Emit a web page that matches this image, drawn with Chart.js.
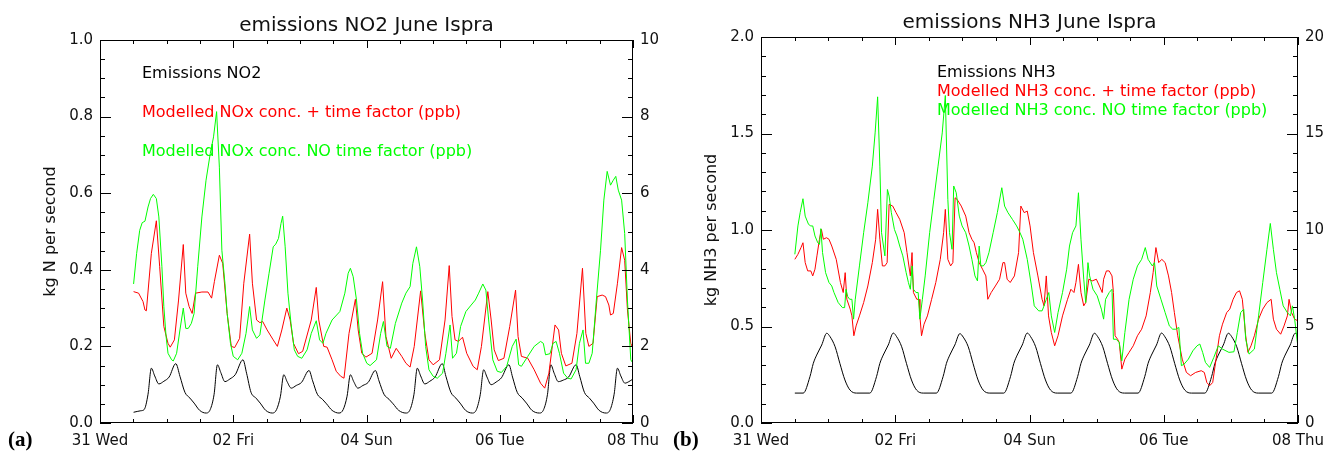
<!DOCTYPE html>
<html>
<head>
<meta charset="utf-8">
<script src="https://cdn.jsdelivr.net/npm/chart.js@4/dist/chart.umd.min.js"></script>
<style>
  body { margin: 0; background: #fff; }
  #wrap { position: relative; width: 1327px; height: 456px; }
  canvas { position: absolute; top: 0; }
</style>
</head>
<body>
<div id="wrap">
  <canvas id="no2" width="663" height="456" style="left:0"></canvas>
  <canvas id="nh3" width="664" height="456" style="left:663px"></canvas>
</div>
<script>
// x values are hours since 31 May 00:00
const dayTicks = [0, 48, 96, 144, 192];
const dayLabels = ["31 Wed", "02 Fri", "04 Sun", "06 Tue", "08 Thu"];

// NO2 panel: emissions (kg N/s, left axis), concentrations (ppb, right axis)
const no2Emis = [
  [12.1,.028],[14.7,.032],[15.9,.035],[17.3,.075],[18.5,.143],[19.7,.123],[21.2,.102],[23.0,.109],[24.9,.120],[27.3,.155],[28.8,.122],[30.6,.080],[32.4,.065],[33.9,.052],[35.9,.033],
  [38.2,.026],[39.7,.035],[41.1,.075],[42.3,.152],[43.5,.132],[45.0,.108],[46.8,.115],[48.7,.126],[51.5,.165],[52.8,.130],[54.4,.080],[56.2,.065],[57.7,.052],[59.7,.033],
  [62.1,.026],[63.6,.035],[65.0,.070],[66.2,.126],[67.4,.108],[68.9,.091],[70.7,.098],[72.6,.106],[75.3,.137],[76.6,.110],[78.3,.075],[80.1,.062],[81.6,.050],[83.6,.033],
  [86.1,.026],[87.6,.035],[89.0,.070],[90.2,.126],[91.4,.108],[92.9,.091],[94.7,.098],[96.6,.106],[99.2,.137],[100.5,.110],[102.3,.075],[104.1,.062],[105.6,.050],[107.6,.033],
  [110.2,.026],[111.7,.035],[113.1,.075],[114.3,.143],[115.5,.123],[117.0,.102],[118.8,.109],[120.7,.120],[123.3,.155],[124.6,.122],[126.4,.080],[128.2,.065],[129.7,.052],[131.7,.033],
  [134.1,.026],[135.6,.035],[137.0,.075],[138.2,.139],[139.4,.120],[140.9,.100],[142.7,.107],[144.6,.118],[147.3,.152],[148.6,.120],[150.3,.080],[152.1,.065],[153.6,.052],[155.6,.033],
  [158.3,.026],[159.8,.035],[161.2,.075],[162.4,.152],[163.6,.130],[165.1,.108],[166.9,.112],[168.8,.120],[171.5,.152],[172.8,.122],[174.5,.080],[176.3,.065],[177.8,.052],[179.8,.033],
  [182.3,.026],[183.8,.035],[185.2,.075],[186.4,.143],[187.6,.123],[189.1,.104],[190.5,.108],[192.0,.115]
];
const no2WithTf = [
  [12.1,3.43],[13.9,3.39],[15.5,3.17],[16.2,2.95],[16.7,2.93],[18.5,4.43],[20.3,5.28],[21.5,4.08],[23.0,2.52],[24.5,2.08],[25.3,1.98],[26.8,2.17],[28.3,3.21],[30.0,4.66],[30.9,3.39],[32.1,3.04],[33.2,2.86],[34.4,3.39],[36.7,3.42],[38.9,3.42],[40.2,3.26],[41.2,3.69],[43.0,4.38],[44.2,4.17],[45.8,2.86],[47.3,2.0],[48.5,1.97],[50.3,2.21],[51.8,3.65],[53.9,4.93],[54.9,3.65],[56.4,2.69],[57.6,2.62],[58.6,2.65],[60.2,2.43],[62.4,2.17],[63.9,2.0],[65.5,2.43],[67.3,3.0],[68.5,2.69],[69.7,2.08],[71.5,1.81],[73.0,1.87],[76.1,2.69],[77.9,3.54],[78.8,2.69],[80.6,2.0],[81.8,1.98],[83.6,1.65],[85.1,1.35],[86.7,1.22],[87.9,1.17],[89.7,2.34],[92.0,3.23],[93.0,2.43],[94.3,1.82],[95.8,1.72],[98.0,1.82],[100.0,2.69],[101.8,3.69],[103.0,2.26],[104.9,1.69],[106.7,1.95],[108.7,1.74],[110.2,1.56],[111.7,1.46],[113.2,2.0],[115.5,3.45],[117.0,2.34],[118.5,1.65],[120.0,1.52],[122.3,1.65],[124.3,2.69],[125.8,4.11],[126.8,2.78],[127.9,2.17],[129.1,2.13],[130.6,2.24],[132.1,1.82],[134.4,1.48],[135.9,1.39],[137.4,2.0],[139.7,3.43],[140.9,2.69],[142.0,1.91],[143.5,1.63],[145.5,1.69],[147.6,2.52],[149.7,3.47],[150.6,2.26],[151.8,1.74],[154.1,1.69],[156.4,1.39],[158.7,1.04],[160.2,0.91],[161.7,1.30],[163.9,2.56],[165.2,2.43],[166.2,1.82],[167.8,1.49],[170.0,1.56],[171.8,2.34],[173.8,4.04],[175.0,2.34],[176.1,2.0],[177.6,2.08],[179.1,3.30],[180.9,3.34],[182.1,3.30],[183.3,3.08],[183.9,2.82],[184.9,2.86],[186.4,3.65],[187.9,4.58],[189.0,4.25],[190.0,2.95],[191.2,2.08],[192.0,1.95]
];
const no2NoTf = [
  [12.1,3.63],[13.2,4.43],[14.3,5.03],[15.2,5.23],[16.2,5.27],[17.3,5.64],[18.2,5.86],[19.2,5.97],[20.3,5.86],[21.2,5.38],[22.3,4.08],[23.0,3.04],[23.8,2.26],[24.5,1.82],[25.8,1.65],[26.4,1.62],[27.6,1.82],[28.8,2.43],[30.0,3.0],[30.9,2.47],[31.8,2.47],[32.9,2.60],[33.9,2.86],[35.2,4.08],[36.7,5.38],[38.2,6.34],[39.7,7.03],[40.9,7.47],[42.0,8.13],[43.0,6.68],[43.9,4.51],[45.0,3.65],[45.8,2.86],[47.0,2.08],[48.0,1.74],[49.6,1.65],[51.1,1.82],[52.6,2.34],[53.9,3.04],[54.9,2.43],[56.4,2.21],[57.6,2.30],[59.4,3.21],[60.9,3.91],[62.4,4.60],[63.3,4.67],[64.3,4.82],[65.2,5.21],[65.8,5.40],[66.7,4.60],[67.7,3.39],[68.8,2.60],[70.0,1.91],[71.2,1.74],[72.7,1.69],[74.6,1.91],[76.1,2.34],[77.9,2.67],[79.1,2.17],[80.3,2.08],[81.4,2.34],[83.6,2.69],[86.4,2.91],[88.2,3.39],[89.4,3.91],[90.2,4.04],[91.2,3.82],[92.4,3.21],[93.5,2.34],[94.6,1.82],[96.1,1.56],[97.3,1.50],[99.6,1.65],[101.1,2.34],[102.1,2.65],[103.4,2.0],[104.6,1.95],[106.4,2.60],[108.7,3.13],[110.2,3.39],[111.7,3.56],[112.7,4.17],[114.0,4.60],[115.2,4.08],[116.2,3.21],[117.3,2.0],[118.5,1.39],[120.0,1.22],[121.5,1.17],[123.4,1.30],[124.6,1.82],[126.1,2.56],[127.0,1.69],[128.4,1.82],[129.9,2.52],[131.8,2.91],[133.7,3.08],[135.2,3.21],[136.4,3.39],[137.9,3.63],[139.0,3.47],[140.0,2.69],[141.5,1.65],[143.1,1.35],[144.6,1.32],[146.5,1.48],[148.5,2.0],[149.9,2.19],[150.8,1.52],[151.8,1.48],[154.1,1.74],[156.4,2.0],[158.7,2.13],[159.7,2.08],[160.5,1.78],[162.1,1.81],[163.2,2.08],[164.3,2.13],[165.5,1.82],[167.0,1.30],[168.5,1.17],[169.7,1.15],[171.5,1.39],[172.7,2.08],[174.0,2.43],[174.9,1.56],[176.1,1.56],[177.3,1.82],[178.8,3.21],[180.3,4.51],[181.5,5.82],[182.7,6.57],[183.9,6.21],[184.9,6.34],[185.8,6.44],[186.7,6.08],[187.9,5.82],[189.0,4.95],[190.0,3.21],[191.2,1.65],[192.0,1.56]
];

// NH3 panel: emissions (kg NH3/s, left axis), concentrations (ppb, right axis)
const nh3Emis = [
  [12.1,.155],[15.1,.155],[17.5,.24],[18.7,.309],[19.9,.352],[21.7,.404],[23.5,.465],[24.7,.447],[26.5,.395],[28.2,.309],[30.0,.223],[31.8,.171],[34.2,.155],
  [38.9,.155],[41.3,.24],[42.5,.309],[43.7,.352],[45.5,.404],[47.3,.466],[48.5,.447],[50.3,.395],[52.0,.309],[53.8,.223],[55.6,.171],[58.0,.155],
  [62.7,.155],[65.1,.24],[66.3,.309],[67.5,.352],[69.3,.404],[71.1,.463],[72.3,.445],[74.1,.395],[75.8,.309],[77.6,.223],[79.4,.171],[81.8,.155],
  [86.8,.155],[89.2,.24],[90.4,.309],[91.6,.352],[93.4,.404],[95.2,.466],[96.4,.447],[98.2,.395],[99.9,.309],[101.7,.223],[103.5,.171],[105.9,.155],
  [110.8,.155],[113.2,.24],[114.4,.309],[115.6,.352],[117.4,.404],[119.2,.465],[120.4,.447],[122.2,.395],[123.9,.309],[125.7,.223],[127.5,.171],[129.9,.155],
  [134.8,.155],[137.2,.24],[138.4,.309],[139.6,.352],[141.4,.404],[143.2,.466],[144.4,.447],[146.2,.395],[147.9,.309],[149.7,.223],[151.5,.171],[153.9,.155],
  [158.7,.155],[161.1,.24],[162.3,.309],[163.5,.352],[165.3,.404],[167.1,.465],[168.3,.447],[170.1,.395],[171.8,.309],[173.6,.223],[175.4,.171],[177.8,.155],
  [182.6,.155],[185.0,.24],[186.2,.309],[187.4,.352],[189.2,.404],[191.0,.465],[192.0,.46]
];
const nh3WithTf = [
  [12.1,8.48],[13.2,8.74],[14.3,9.09],[15.0,9.34],[15.8,8.31],[16.7,7.88],[17.8,7.88],[18.5,7.62],[19.3,7.97],[20.0,8.66],[20.9,9.52],[21.6,10.03],[22.3,9.52],[23.4,9.60],[24.3,9.52],[25.3,9.17],[26.9,8.48],[28.4,7.28],[29.4,6.76],[30.1,7.79],[30.7,6.41],[31.9,5.90],[32.5,5.55],[33.2,4.52],[34.0,5.03],[35.2,5.55],[36.7,6.24],[38.2,7.10],[39.8,8.31],[41.0,9.52],[41.7,11.07],[42.5,9.52],[43.4,8.14],[44.3,8.14],[45.1,8.31],[45.8,11.33],[47.1,11.24],[48.3,10.90],[49.6,10.55],[51.2,9.86],[52.2,8.83],[53.4,7.62],[54.0,8.83],[54.5,6.76],[55.7,6.41],[56.5,6.41],[56.8,5.55],[57.4,4.52],[58.3,5.12],[59.5,5.55],[61.0,6.41],[62.5,7.28],[64.1,8.48],[65.3,9.86],[65.9,11.07],[66.8,8.48],[67.8,8.14],[68.6,8.31],[69.4,11.67],[70.1,11.59],[71.6,11.24],[73.2,10.72],[74.4,9.86],[75.4,9.52],[76.2,9.34],[77.0,8.83],[78.0,8.31],[79.2,7.97],[80.4,7.62],[81.1,6.41],[82.3,6.76],[83.8,7.10],[85.3,7.45],[86.5,8.31],[87.1,8.31],[88.0,7.45],[89.1,7.28],[90.6,7.62],[92.1,8.83],[92.9,11.24],[94.1,10.90],[95.2,10.98],[96.2,10.21],[97.4,8.83],[99.0,7.62],[100.5,6.41],[101.2,6.07],[102.0,7.62],[102.8,5.55],[103.8,4.69],[105.0,4.0],[106.2,4.52],[107.8,5.55],[109.6,6.41],[110.8,6.93],[111.9,6.76],[112.6,7.28],[113.5,8.22],[114.4,6.76],[115.4,6.07],[116.1,6.24],[117.2,7.45],[118.4,7.36],[119.9,7.45],[121.0,7.10],[122.0,6.76],[122.5,7.45],[123.5,7.88],[124.5,7.88],[125.5,7.62],[126.0,6.76],[126.6,4.52],[127.5,4.34],[128.1,4.17],[129.0,2.79],[130.1,3.31],[131.6,3.66],[133.1,4.0],[134.6,4.52],[136.1,4.86],[137.7,5.55],[139.2,6.76],[140.2,7.79],[141.2,9.09],[142.2,8.31],[143.3,8.48],[144.5,8.31],[145.7,7.62],[146.8,6.76],[147.8,5.72],[149.0,4.52],[150.6,3.31],[152.1,2.62],[153.6,2.45],[155.4,2.62],[157.4,2.71],[158.5,2.62],[159.4,2.10],[160.4,1.93],[161.5,2.10],[162.7,3.31],[163.9,4.52],[165.0,5.12],[166.5,5.72],[167.6,5.90],[168.8,6.41],[170.0,6.76],[171.1,6.85],[172.1,6.41],[173.3,4.52],[174.1,3.66],[175.2,4.0],[176.4,4.52],[177.9,5.38],[179.4,5.90],[180.9,6.24],[182.4,6.41],[183.2,5.38],[184.3,4.86],[185.8,4.60],[187.0,5.03],[188.2,5.55],[188.8,6.41],[189.7,5.72],[190.8,5.38],[192.0,5.29]
];
const nh3NoTf = [
  [12.1,8.74],[13.2,10.21],[14.0,10.90],[15.0,11.62],[15.8,10.72],[17.0,10.29],[17.8,10.21],[18.5,10.21],[19.3,9.69],[20.3,9.34],[20.9,9.26],[21.4,10.07],[22.0,8.83],[23.1,7.79],[24.3,7.28],[25.3,7.10],[26.1,6.76],[27.6,6.24],[29.1,5.98],[29.9,5.98],[30.4,6.93],[31.0,6.55],[31.7,6.41],[32.5,6.41],[33.1,5.38],[33.7,6.41],[35.2,8.14],[36.7,9.86],[38.2,11.41],[39.8,13.31],[40.8,15.03],[41.7,16.90],[42.5,13.31],[43.1,9.86],[44.3,8.66],[45.2,12.10],[45.8,11.76],[46.6,10.90],[47.7,10.03],[48.6,9.69],[49.6,9.17],[50.7,8.66],[51.9,7.79],[52.7,7.28],[53.4,6.93],[54.0,8.14],[54.5,6.93],[55.4,6.76],[56.2,6.76],[56.8,5.38],[57.7,6.41],[58.7,7.62],[60.3,9.86],[61.8,11.59],[63.3,13.31],[64.8,15.03],[65.9,16.97],[66.8,11.59],[67.4,9.86],[68.3,9.0],[68.9,12.28],[69.8,11.93],[70.9,10.72],[71.9,10.21],[73.2,9.86],[74.4,9.17],[75.4,8.48],[76.5,7.62],[77.4,7.36],[78.0,9.17],[78.6,8.14],[79.5,8.14],[80.4,8.31],[81.5,8.83],[83.0,9.86],[84.5,10.90],[86.1,12.19],[87.1,11.24],[88.3,10.90],[89.9,10.55],[91.4,10.21],[92.6,9.86],[93.6,9.52],[95.2,8.48],[96.7,7.10],[97.7,6.07],[99.3,5.81],[100.5,5.81],[101.2,6.07],[102.0,6.41],[102.9,6.76],[103.8,5.55],[105.0,4.69],[106.2,5.72],[107.8,6.76],[109.3,7.97],[110.3,9.17],[111.4,9.86],[112.6,10.21],[113.5,11.93],[114.4,9.52],[115.4,7.45],[116.1,6.24],[116.9,8.31],[117.5,7.62],[118.7,6.93],[120.2,6.59],[121.7,5.90],[122.5,5.38],[123.2,6.41],[124.5,6.76],[125.5,6.93],[126.0,4.34],[127.0,4.34],[128.1,4.17],[129.0,3.22],[130.1,4.69],[131.6,6.41],[133.1,7.45],[134.6,8.14],[136.1,8.48],[137.4,9.09],[138.4,8.48],[139.9,8.14],[140.7,8.31],[141.5,7.10],[143.0,6.41],[144.5,5.72],[146.0,5.03],[147.2,4.86],[148.3,4.86],[149.4,4.95],[150.3,2.97],[151.3,3.05],[152.8,3.31],[154.4,3.74],[155.9,4.0],[156.9,4.09],[157.9,3.66],[158.9,3.14],[160.4,2.88],[161.9,3.40],[163.5,4.0],[165.0,3.83],[167.3,3.66],[169.1,3.69],[170.3,4.69],[171.5,5.72],[172.6,5.90],[173.3,4.34],[174.5,3.57],[176.4,3.83],[177.9,5.55],[179.4,7.28],[180.9,9.0],[182.1,10.34],[183.2,9.0],[184.3,7.79],[185.5,6.93],[186.7,6.07],[188.2,5.72],[189.3,5.55],[190.0,6.07],[190.8,5.38],[192.0,3.91]
];

const no2Legend = ["Emissions NO2", "Modelled NOx conc. + time factor (ppb)", "Modelled NOx conc. NO time factor (ppb)"];
const nh3Legend = ["Emissions NH3", "Modelled NH3 conc. + time factor (ppb)", "Modelled NH3 conc. NO time factor (ppb)"];

Chart.defaults.font.family = "'DejaVu Sans', 'Liberation Sans', sans-serif";
Chart.defaults.font.size = 15;
Chart.defaults.color = "#111";

const pts = (arr) => arr.map(([x, y]) => ({ x, y }));

// IDL style frame: box with inward ticks, title, in-plot legend text, panel letter
const panelDecor = {
  id: "panelDecor",
  afterDraw(chart, args, o) {
    const { ctx, chartArea: a, scales } = chart;
    ctx.save();
    ctx.strokeStyle = "#000";
    ctx.lineWidth = 1;
    ctx.strokeRect(a.left + 0.5, a.top + 0.5, a.right - a.left - 1, a.bottom - a.top - 1);

    const line = (x1, y1, x2, y2) => {
      ctx.beginPath();
      ctx.moveTo(x1, y1);
      ctx.lineTo(x2, y2);
      ctx.stroke();
    };
    for (let i = 0; i <= 16; i++) {
      const px = Math.round(scales.x.getPixelForValue(i * 12)) + 0.5;
      const len = i % 4 === 0 ? 8 : 4;
      line(px, a.bottom, px, a.bottom - len);
      line(px, a.top, px, a.top + len);
    }
    const yTicks = (scale, minor, per, x0, dir) => {
      const n = Math.round(scale.max / minor);
      for (let i = 0; i <= n; i++) {
        const py = Math.round(scale.getPixelForValue(i * minor)) + 0.5;
        const len = i % per === 0 ? 11 : 5;
        line(x0, py, x0 + dir * len, py);
      }
    };
    yTicks(scales.y, o.yMinor, o.yPer, a.left, 1);
    yTicks(scales.y2, o.y2Minor, o.y2Per, a.right, -1);

    ctx.textBaseline = "alphabetic";
    ctx.textAlign = "center";
    ctx.fillStyle = "#111";
    ctx.font = "20px 'DejaVu Sans'";
    ctx.fillText(o.title, (a.left + a.right) / 2, o.titleY);

    ctx.textAlign = "left";
    ctx.font = "16px 'DejaVu Sans'";
    const ds = chart.data.datasets;
    const cols = [ds[2].borderColor, ds[1].borderColor, ds[0].borderColor];
    o.legend.forEach((t, i) => {
      ctx.fillStyle = cols[i];
      ctx.fillText(t, o.legendX, o.legendY[i]);
    });

    ctx.fillStyle = "#000";
    ctx.font = "bold 21px 'Liberation Serif', serif";
    ctx.fillText(o.letter, o.letterX, 446);
    ctx.restore();
  },
};

function makePanel(id, cfg) {
  return new Chart(document.getElementById(id), {
    type: "line",
    data: {
      datasets: [
        { data: pts(cfg.noTf), yAxisID: "y2", borderColor: "#00ff00" },
        { data: pts(cfg.withTf), yAxisID: "y2", borderColor: "#ff0000" },
        { data: pts(cfg.emis), yAxisID: "y", borderColor: "#000000", cubicInterpolationMode: "monotone" },
      ],
    },
    options: {
      responsive: false,
      animation: false,
      events: [],
      layout: { padding: { top: cfg.top, left: 0, right: 0, bottom: 0 } },
      elements: { point: { radius: 0 }, line: { borderWidth: 1, tension: 0, fill: false } },
      scales: {
        x: {
          type: "linear", min: 0, max: 192,
          grid: { display: false, drawTicks: false }, border: { display: false },
          ticks: {
            stepSize: 48, autoSkip: false, maxRotation: 0, padding: 9,
            callback: (v) => dayLabels[dayTicks.indexOf(v)] ?? "",
          },
          afterFit: (s) => { s.height = 33; s.paddingLeft = 0; s.paddingRight = 0; },
        },
        y: {
          position: "left", min: 0, max: cfg.yMax,
          grid: { display: false, drawTicks: false }, border: { display: false },
          ticks: { stepSize: cfg.yStep, padding: 7, callback: (v) => v.toFixed(1) },
          title: { display: true, text: cfg.yTitle, padding: { top: cfg.yTitlePad, bottom: 0 }, font: { size: 16 } },
          afterFit: (s) => { s.width = cfg.yWidth; },
        },
        y2: {
          position: "right", min: 0, max: cfg.y2Max,
          grid: { display: false, drawTicks: false }, border: { display: false },
          ticks: { stepSize: cfg.y2Step, padding: 7 },
          afterFit: (s) => { s.width = cfg.y2Width; },
        },
      },
      plugins: {
        legend: { display: false },
        tooltip: { enabled: false },
        panelDecor: {
          title: cfg.title, titleY: cfg.titleY,
          legend: cfg.legend, legendX: cfg.legendX, legendY: cfg.legendY,
          letter: cfg.letter, letterX: cfg.letterX,
          yMinor: cfg.yMinor, yPer: cfg.yPer, y2Minor: cfg.y2Minor, y2Per: cfg.y2Per,
        },
      },
    },
    plugins: [panelDecor],
  });
}

makePanel("no2", {
  top: 40, yWidth: 100, y2Width: 30, yTitlePad: 41,
  yMax: 1, yStep: 0.2, yMinor: 0.05, yPer: 4,
  y2Max: 10, y2Step: 2, y2Minor: 0.5, y2Per: 4,
  yTitle: "kg N per second",
  title: "emissions NO2 June Ispra", titleY: 31,
  legend: no2Legend, legendX: 142, legendY: [78, 117, 156],
  letter: "(a)", letterX: 8,
  emis: no2Emis, withTf: no2WithTf, noTf: no2NoTf,
});

makePanel("nh3", {
  top: 37, yWidth: 98, y2Width: 29, yTitlePad: 39,
  yMax: 2, yStep: 0.5, yMinor: 0.1, yPer: 5,
  y2Max: 20, y2Step: 5, y2Minor: 1, y2Per: 5,
  yTitle: "kg NH3 per second",
  title: "emissions NH3 June Ispra", titleY: 28,
  legend: nh3Legend, legendX: 274, legendY: [77, 96, 115],
  letter: "(b)", letterX: 10,
  emis: nh3Emis, withTf: nh3WithTf, noTf: nh3NoTf,
});
</script>
</body>
</html>
